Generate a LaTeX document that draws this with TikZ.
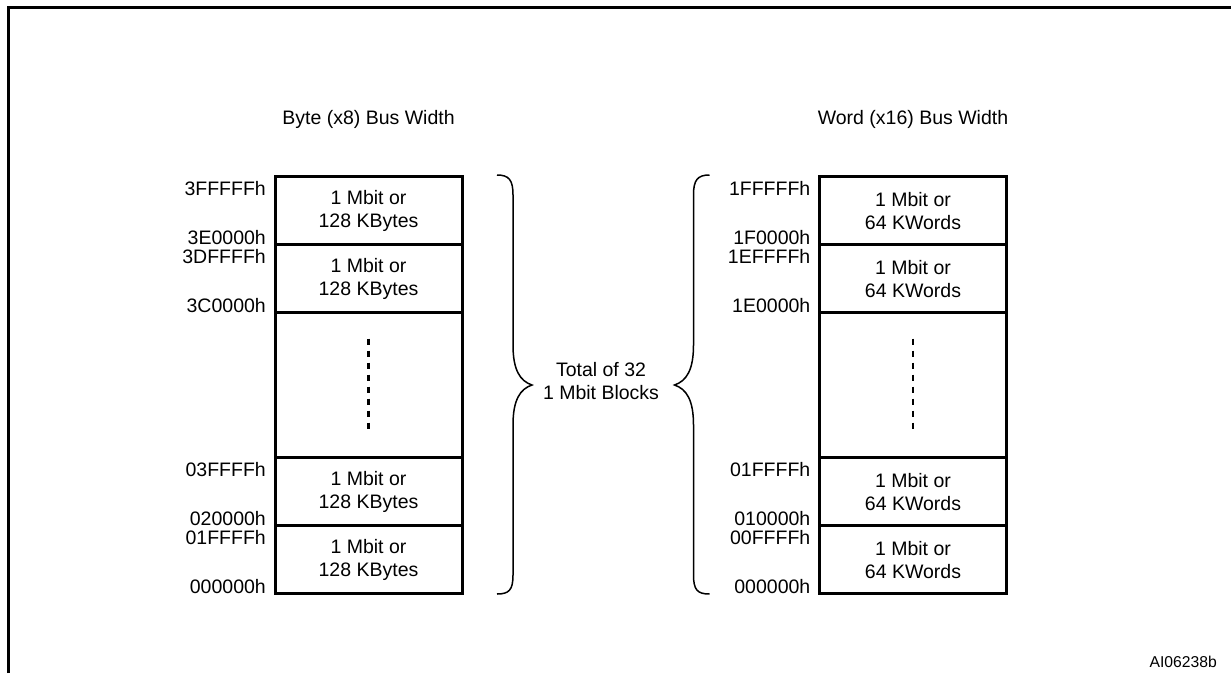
\documentclass[tikz,border=0pt]{standalone}
\usepackage{fontspec}
\setmainfont{Liberation Sans}
\usetikzlibrary{positioning, calc}
\colorlet{colLinea}{black}
\colorlet{colTexto}{black}
\tikzset{
  letraBase/.style={font=\fontsize{19.5}{23}\selectfont, text=colTexto},
  bloque/.style={
    draw=colLinea, line width=3pt,
    minimum width=187pt, minimum height=68pt,
    inner sep=0pt, outer sep=0pt,
    align=center, letraBase
  },
  bloqueHueco/.style={bloque, minimum height=145pt},
  dirSup/.style={anchor=north east, inner sep=0pt, xshift=-9pt, yshift=-4pt, letraBase},
  dirInf/.style={anchor=base east, inner sep=0pt, xshift=-9pt, yshift=0.5pt, letraBase},
  titulo/.style={anchor=base, inner sep=0pt, letraBase},
  textoCentro/.style={align=center, inner sep=0pt, letraBase},
  etiquetaRef/.style={anchor=base east, inner sep=0pt, font=\fontsize{15.7}{18}\selectfont, text=colTexto},
  marco/.style={draw=colLinea, line width=3pt},
  llave/.style={draw=colLinea, line width=1.5pt},
  puntos/.style={draw=colLinea, line width=2.5pt, dash pattern=on 6pt off 6pt},
}

\begin{document}
\begin{tikzpicture}[x=1pt, y=1pt]
    \useasboundingbox (0,0) rectangle (1231,-673);
    \draw[marco] (8,-673) -- (8,-7) -- (1231,-7);

    % columna byte
    \node[bloque] (byte1) at (368.5,-210.7) {1 Mbit or\\128 KBytes};
    \node[bloque, below=0pt of byte1] (byte2) {1 Mbit or\\128 KBytes};
    \node[bloqueHueco, below=0pt of byte2] (byte3) {};
    \node[bloque, below=0pt of byte3] (byte4) {1 Mbit or\\128 KBytes};
    \node[bloque, below=0pt of byte4] (byte5) {1 Mbit or\\128 KBytes};
    \draw[puntos] ([yshift=-26pt]byte3.north) -- ([yshift=29pt]byte3.south);
    \node[titulo] (tituloByte) at ([yshift=52pt]byte1.north) {Byte (x8) Bus Width};

    \node[dirSup] (dByte1a) at (byte1.north west) {3FFFFFh};
    \node[dirInf] (dByte1b) at (byte1.south west) {3E0000h};
    \node[dirSup] (dByte2a) at (byte2.north west) {3DFFFFh};
    \node[dirInf] (dByte2b) at (byte2.south west) {3C0000h};
    \node[dirSup] (dByte4a) at (byte4.north west) {03FFFFh};
    \node[dirInf] (dByte4b) at (byte4.south west) {020000h};
    \node[dirSup] (dByte5a) at (byte5.north west) {01FFFFh};
    \node[dirInf] (dByte5b) at (byte5.south west) {000000h};

    % columna word
    \node[bloque, right=357.5pt of byte1] (word1) {1 Mbit or\\64 KWords};
    \node[bloque, below=0pt of word1] (word2) {1 Mbit or\\64 KWords};
    \node[bloqueHueco, below=0pt of word2] (word3) {};
    \node[bloque, below=0pt of word3] (word4) {1 Mbit or\\64 KWords};
    \node[bloque, below=0pt of word4] (word5) {1 Mbit or\\64 KWords};
    \draw[puntos] ([yshift=-26pt]word3.north) -- ([yshift=29pt]word3.south);
    \node[titulo] (tituloWord) at ([yshift=52pt]word1.north) {Word (x16) Bus Width};

    \node[dirSup] (dWord1a) at (word1.north west) {1FFFFFh};
    \node[dirInf] (dWord1b) at (word1.south west) {1F0000h};
    \node[dirSup] (dWord2a) at (word2.north west) {1EFFFFh};
    \node[dirInf] (dWord2b) at (word2.south west) {1E0000h};
    \node[dirSup] (dWord4a) at (word4.north west) {01FFFFh};
    \node[dirInf] (dWord4b) at (word4.south west) {010000h};
    \node[dirSup] (dWord5a) at (word5.north west) {00FFFFh};
    \node[dirInf] (dWord5b) at (word5.south west) {000000h};

    % llaves
    \draw[llave] (497,-175) .. controls (509,-175) and (513,-180) .. (513,-195)
      -- (513,-345) .. controls (513,-370) and (520,-381) .. (532,-385)
      .. controls (520,-389) and (513,-400) .. (513,-425)
      -- (513,-575) .. controls (513,-590) and (509,-594) .. (497,-594);
    \draw[llave] (709.5,-175) .. controls (697.5,-175) and (693.5,-180) .. (693.5,-195)
      -- (693.5,-345) .. controls (693.5,-370) and (686.5,-381) .. (674.5,-385)
      .. controls (686.5,-389) and (693.5,-400) .. (693.5,-425)
      -- (693.5,-575) .. controls (693.5,-590) and (697.5,-594) .. (709.5,-594);
    \node[textoCentro] (total) at (601,-381) {Total of 32\\1 Mbit Blocks};

    \node[etiquetaRef] (ref) at (1217,-667) {AI06238b};
\end{tikzpicture}
\end{document}
